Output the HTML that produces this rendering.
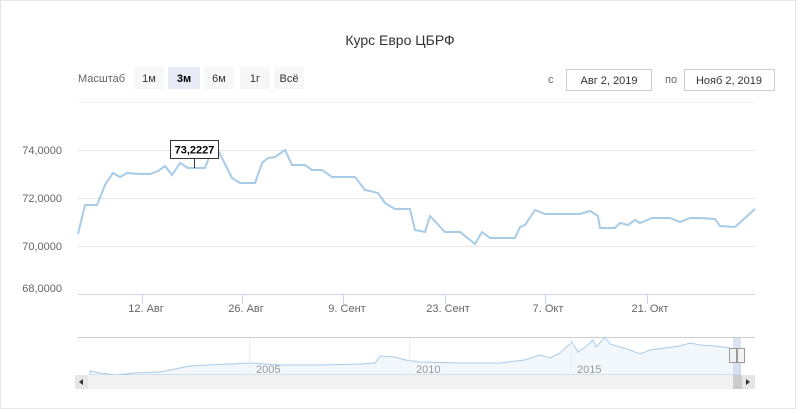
<!DOCTYPE html>
<html><head><meta charset="utf-8"><style>
body{margin:0;background:#fff;font-family:"Liberation Sans",sans-serif;}
</style></head><body>
<svg width="800" height="409" viewBox="0 0 800 409" xmlns="http://www.w3.org/2000/svg" font-family="Liberation Sans, sans-serif">
<rect x="0.5" y="0.5" width="795" height="408" fill="#fff" stroke="#e6e6e6"/>
<text x="400" y="45" text-anchor="middle" font-size="14" fill="#333">Курс Евро ЦБРФ</text>
<text x="78" y="82" font-size="11" fill="#666">Масштаб</text>
<rect x="134" y="67" width="30" height="22" fill="#f7f7f7"/><text x="149" y="82" text-anchor="middle" font-size="11" fill="#333">1м</text>
<rect x="168" y="67" width="32" height="22" fill="#e6ebf5"/><text x="184" y="82" text-anchor="middle" font-size="11" font-weight="bold" fill="#000">3м</text>
<rect x="204" y="67" width="30" height="22" fill="#f7f7f7"/><text x="219" y="82" text-anchor="middle" font-size="11" fill="#333">6м</text>
<rect x="240" y="67" width="30" height="22" fill="#f7f7f7"/><text x="255" y="82" text-anchor="middle" font-size="11" fill="#333">1г</text>
<rect x="274" y="67" width="30" height="22" fill="#f7f7f7"/><text x="289" y="82" text-anchor="middle" font-size="11" fill="#333">Всё</text>
<text x="548" y="83" font-size="11" fill="#666">с</text>
<rect x="566.5" y="69.5" width="85" height="21" fill="#fff" stroke="#ccc"/><text x="609" y="84" text-anchor="middle" font-size="11" fill="#333">Авг 2, 2019</text>
<text x="665" y="83" font-size="11" fill="#666">по</text>
<rect x="684.5" y="69.5" width="90" height="21" fill="#fff" stroke="#ccc"/><text x="729" y="84" text-anchor="middle" font-size="11" fill="#333">Нояб 2, 2019</text>
<line x1="78" y1="102.5" x2="755" y2="102.5" stroke="#f2f2f2"/>
<g stroke="#e6e6e6">
<line x1="78" y1="150.5" x2="755" y2="150.5"/><line x1="78" y1="198.5" x2="755" y2="198.5"/><line x1="78" y1="246.5" x2="755" y2="246.5"/>
</g>
<line x1="78" y1="294.5" x2="755" y2="294.5" stroke="#ccd6eb"/>
<g stroke="#ccd6eb"><line x1="142.5" y1="294" x2="142.5" y2="304"/><line x1="242.5" y1="294" x2="242.5" y2="304"/><line x1="343.5" y1="294" x2="343.5" y2="304"/><line x1="445.5" y1="294" x2="445.5" y2="304"/><line x1="545.5" y1="294" x2="545.5" y2="304"/><line x1="647.5" y1="294" x2="647.5" y2="304"/></g>
<g font-size="11" fill="#666" text-anchor="end">
<text x="62" y="154">74,0000</text><text x="62" y="202">72,0000</text><text x="62" y="250">70,0000</text><text x="62" y="292">68,0000</text></g>
<g font-size="11" fill="#666" text-anchor="middle">
<text x="146" y="312">12. Авг</text><text x="246" y="312">26. Авг</text><text x="347" y="312">9. Сент</text><text x="448" y="312">23. Сент</text><text x="548" y="312">7. Окт</text><text x="650" y="312">21. Окт</text></g>
<polyline fill="none" stroke="#a8cbe8" stroke-width="2" points="78,234 85,205 97,205 105,185 113,173 120,177 127,173 140,174 150,174 158,171 165,166 172,175 180,163 188,168 196,168 205,168 210,155 218,150 224,162 232,178 240,183 255,183 262,163 268,158 275,157 285,150 292,165 305,165 312,170 322,170 332,177 340,177 355,177 365,190 378,193 385,203 395,209 410,209 415,230 425,232 430,216 445,232 460,232 475,244 482,232 490,238 515,238 520,227 525,225 535,210 545,214 580,214 590,211 598,216 600,228 615,228 620,223 628,225 635,220 640,223 652,218 670,218 680,222 690,218 700,218 715,219 720,226 735,227 745,218 755,209"/>
<line x1="194.5" y1="158" x2="194.5" y2="168" stroke="#333"/>
<rect x="170.5" y="140.5" width="48" height="18" fill="#fff" stroke="#333"/>
<text x="194.5" y="153.5" text-anchor="middle" font-size="11" font-weight="bold" fill="#000">73,2227</text>
<!-- navigator -->
<line x1="78" y1="337.5" x2="755" y2="337.5" stroke="#ccc"/>
<path d="M90,371 L100,373 L115,375 L135,373 L160,372 L175,369 L190,366 L210,365 L230,364 L250,363 L280,365 L320,365 L360,364 L375,363 L380,356 L395,357 L405,360 L420,362 L460,363 L500,363 L525,360 L540,355 L550,358 L560,353 L572,342 L578,352 L588,345 L593,340 L596,347 L605,337 L610,344 L620,347 L630,350 L640,354 L650,350 L665,348 L680,346 L690,343 L700,345 L715,346 L730,348 L740,350 L740,375 L90,375 Z" fill="#f2f7fc" stroke="#a8cbe8" stroke-width="1"/>
<g stroke="#eee"><line x1="249.5" y1="338" x2="249.5" y2="375"/><line x1="409.5" y1="338" x2="409.5" y2="375"/><line x1="570.5" y1="338" x2="570.5" y2="375"/></g>
<g font-size="11" fill="#999"><text x="256" y="373">2005</text><text x="416" y="373">2010</text><text x="577" y="373">2015</text></g>
<rect x="733" y="338" width="8" height="37" fill="#ccd6eb" opacity="0.7"/>
<rect x="729.5" y="348.5" width="7" height="14" fill="#f2f2f2" stroke="#999"/>
<rect x="737.5" y="348.5" width="7" height="14" fill="#f2f2f2" stroke="#999"/>
<rect x="75" y="375" width="680" height="14" fill="#f2f2f2"/>
<rect x="75" y="375" width="13" height="14" fill="#e6e6e6"/><path d="M83,379 L79,382 L83,385 Z" fill="#333"/>
<rect x="742" y="375" width="13" height="14" fill="#e6e6e6"/><path d="M746,379 L750,382 L746,385 Z" fill="#333"/>
<rect x="733" y="375" width="9" height="14" fill="#ccc"/>
</svg>
</body></html>
